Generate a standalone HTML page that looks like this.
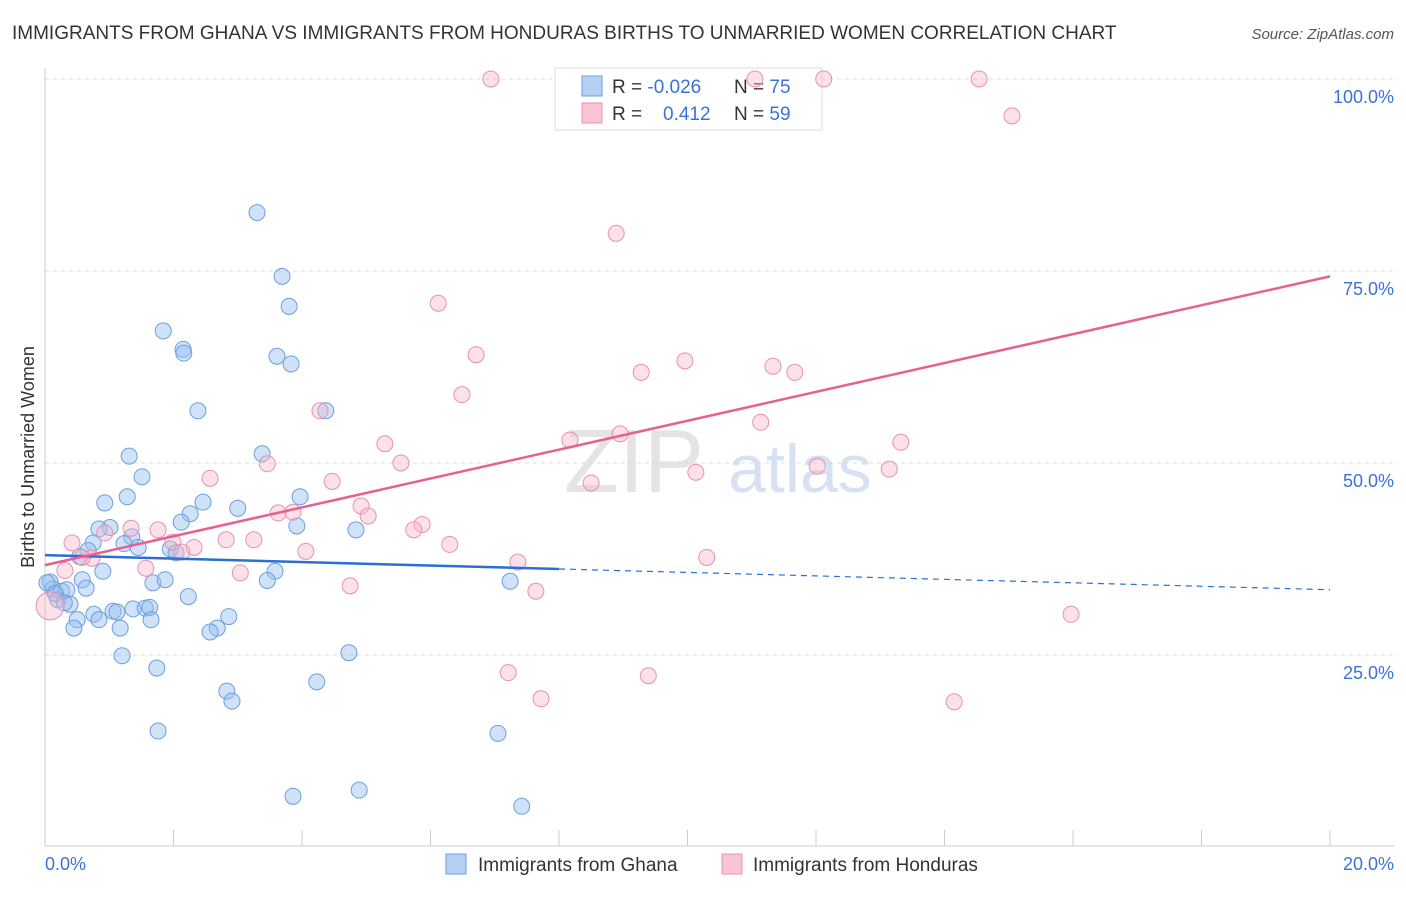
<!DOCTYPE html>
<html><head><meta charset="utf-8"><style>
body{margin:0;background:#fff;font-family:"Liberation Sans",sans-serif;}
svg text{font-family:"Liberation Sans",sans-serif;}
</style></head><body>
<svg id="chart" width="1406" height="892">
<text x="12" y="39" font-size="19" fill="#333">IMMIGRANTS FROM GHANA VS IMMIGRANTS FROM HONDURAS BIRTHS TO UNMARRIED WOMEN CORRELATION CHART</text>
<text x="1394" y="39" font-size="15" fill="#555" font-style="italic" text-anchor="end">Source: ZipAtlas.com</text>
<text x="634" y="492" font-size="90" fill="#e4e4e4" font-family="Liberation Serif" text-anchor="middle">ZIP</text>
<text x="800" y="492" font-size="68" fill="#d6e2f3" text-anchor="middle">atlas</text>
<g id="grid"></g><g id="ticks"></g>
<g>
<rect x="555" y="68" width="267" height="62" fill="#fff" stroke="#ddd"/>
<rect x="582" y="76" width="20" height="20" fill="#b5d0f3" stroke="#6a9fe0"/>
<rect x="582" y="103" width="20" height="20" fill="#f9c4d4" stroke="#e890b0"/>
<text x="612" y="93" font-size="19" fill="#333">R = <tspan fill="#3a72d8">-0.026</tspan></text>
<text x="734" y="93" font-size="19" fill="#333">N = <tspan fill="#3a72d8">75</tspan></text>
<text x="612" y="120" font-size="19" fill="#333">R = <tspan fill="#3a72d8" x="663">0.412</tspan></text>
<text x="734" y="120" font-size="19" fill="#333">N = <tspan fill="#3a72d8">59</tspan></text>
</g>
<g id="pts"></g><g id="trend"></g>
<text transform="translate(34,457) rotate(-90)" font-size="18" fill="#333" text-anchor="middle">Births to Unmarried Women</text>
<text x="45" y="870" font-size="18" fill="#3a72d8">0.0%</text>
<text x="1394" y="870" font-size="18" fill="#3a72d8" text-anchor="end">20.0%</text>
<g><rect x="446" y="854" width="20" height="20" fill="#b5d0f3" stroke="#6a9fe0"/><text x="478" y="871" font-size="19" fill="#333">Immigrants from Ghana</text></g>
<g><rect x="722" y="854" width="20" height="20" fill="#f9c4d4" stroke="#e890b0"/><text x="753" y="871" font-size="19" fill="#333">Immigrants from Honduras</text></g>
</svg>
<script>
const yTicks=[25,50,75,100];
const yTickLabels=["25.0%","50.0%","75.0%","100.0%"];
const xTicks=[0,2,4,6,8,10,12,14,16,18,20];
const ghanaX=[3.30,3.69,3.80,1.84,2.15,2.16,3.61,3.83,2.38,4.37,3.38,1.31,1.51,1.28,0.93,3.97,2.46,3.00,2.26,2.12,1.01,0.84,3.92,4.84,1.35,0.75,1.23,1.45,1.95,2.04,0.67,0.54,0.90,3.58,7.24,3.46,1.68,1.87,0.58,0.08,0.12,0.26,0.34,0.64,0.20,0.39,2.23,1.37,1.06,1.12,1.56,1.63,0.76,0.84,2.86,1.65,0.50,0.45,1.17,2.68,2.57,1.20,4.73,1.74,4.23,2.83,2.91,1.76,7.05,3.86,4.89,7.42,0.03,0.16,0.30];
const ghanaY=[82.6,74.3,70.4,67.2,64.8,64.3,63.9,62.9,56.8,56.8,51.2,50.9,48.2,45.6,44.8,45.6,44.9,44.1,43.4,42.3,41.6,41.4,41.8,41.3,40.4,39.6,39.5,39.0,38.8,38.3,38.6,37.8,35.9,35.9,34.6,34.7,34.4,34.8,34.8,34.5,33.6,33.3,33.5,33.7,32.2,31.6,32.6,31.0,30.7,30.6,31.1,31.2,30.3,29.6,30.0,29.6,29.6,28.5,28.5,28.5,28.0,24.9,25.3,23.3,21.5,20.3,19.0,15.1,14.8,6.6,7.4,5.3,34.4,33.0,31.8];
const hondX=[6.94,11.05,12.12,14.54,15.05,8.89,6.12,6.71,9.96,6.49,11.33,11.67,9.28,4.28,5.29,8.17,8.95,13.32,11.14,5.54,3.46,2.57,12.02,13.14,10.13,8.50,4.47,4.92,5.03,3.63,3.86,5.87,5.74,1.34,1.76,0.93,2.82,3.25,1.99,2.32,2.13,0.42,4.06,6.30,0.73,0.58,10.30,7.36,1.57,3.04,0.31,4.75,7.64,15.97,7.21,9.39,7.72,14.15,0.08];
const hondY=[100,100,100,100,95.2,79.9,70.8,64.1,63.3,58.9,62.6,61.8,61.8,56.8,52.5,53.0,53.8,52.7,55.3,50.0,49.9,48.0,49.6,49.2,48.8,47.4,47.6,44.4,43.1,43.5,43.6,42.0,41.3,41.5,41.3,40.9,40.0,40.0,39.7,39.0,38.4,39.6,38.5,39.4,37.6,37.7,37.7,37.1,36.3,35.7,36.0,34.0,33.3,30.3,22.7,22.3,19.3,18.9,31.4];
const ghanaTrend=[38.0,36.2,33.5]; const ghanaTrendX=[0,8,20];
const hondTrend=[36.7,74.3]; const hondTrendX=[0,20];
const NS="http://www.w3.org/2000/svg";
const sx=v=>45+v/20*1285, sy=v=>847-v*7.68;
function mk(tag,attrs,parent){const e=document.createElementNS(NS,tag);for(const k in attrs)e.setAttribute(k,attrs[k]);document.getElementById(parent).appendChild(e);return e;}
yTicks.forEach((t,i)=>{
 const l=mk('line',{x1:45,x2:1394,y1:sy(t),y2:sy(t),stroke:'#ddd','stroke-dasharray':'4,4'},'grid');
 
 
 const tx=mk('text',{x:1394,y:sy(t)+24,'font-size':18,fill:'#3a72d8','text-anchor':'end'},'grid');
 tx.textContent=yTickLabels[i];
 
 
});
const ax=mk('line',{x1:45,x2:1394,y1:846,y2:846,stroke:'#ccc'},'ticks');


const ay=mk('line',{x1:45,x2:45,y1:68,y2:846,stroke:'#ccc'},'ticks');


xTicks.forEach(t=>{
 const l=mk('line',{x1:sx(t),x2:sx(t),y1:830,y2:846,stroke:'#ccc'},'ticks');
 
 
});
ghanaX.forEach((x,i)=>{
 const c=mk('circle',{cx:sx(x),cy:sy(ghanaY[i]),r:8,fill:'rgba(150,190,240,0.45)',stroke:'#6a9fe0','stroke-width':1},'pts');
 
 
});
hondX.forEach((x,i)=>{
 const c=mk('circle',{cx:sx(x),cy:sy(hondY[i]),r:(i>=58?14:8),fill:'rgba(247,180,200,0.4)',stroke:'#e890b0','stroke-width':1},'pts');
 
 
});
const b1=mk('line',{x1:sx(ghanaTrendX[0]),y1:sy(ghanaTrend[0]),x2:sx(ghanaTrendX[1]),y2:sy(ghanaTrend[1]),stroke:'#2a6fd4','stroke-width':2.5},'trend');


const b2=mk('line',{x1:sx(ghanaTrendX[1]),y1:sy(ghanaTrend[1]),x2:sx(ghanaTrendX[2]),y2:sy(ghanaTrend[2]),stroke:'#2a6fd4','stroke-width':1.2,'stroke-dasharray':'6,5'},'trend');


const p1=mk('line',{x1:sx(hondTrendX[0]),y1:sy(hondTrend[0]),x2:sx(hondTrendX[1]),y2:sy(hondTrend[1]),stroke:'#e8608e','stroke-width':2.5},'trend');


</script>
</body></html>
